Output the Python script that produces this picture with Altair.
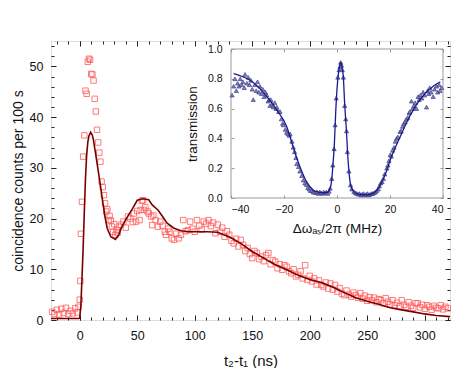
import altair as alt
import pandas as pd

# ---------------- main panel data ----------------
t_data = [-24, -22, -20, -18, -16, -14, -12, -10, -8, -6, -4, -2, -1, 0, 0.5,
          1, 2, 3, 4, 5, 6, 7, 8, 9, 10, 11, 12, 13, 14, 15, 16, 17, 18, 19, 20,
          21, 22, 23, 24, 25, 26, 27, 28, 29, 30, 31, 32, 33, 34, 36, 38, 40, 42,
          44, 46, 47, 49, 50, 52, 53, 54, 55, 56, 57, 59, 60, 62, 63, 64, 66, 68,
          70, 72, 74, 75, 77, 78, 80, 82, 84, 86, 88, 90, 92, 94, 96, 98, 100, 102,
          104, 106, 108, 110, 112, 114, 116, 118, 120, 122, 124, 126, 128, 130,
          132, 134, 136, 138, 140, 142, 144, 146, 148, 150, 152, 154, 156, 158,
          160, 162, 164, 166, 168, 170, 172, 174, 176, 178, 180, 182, 184, 186,
          188, 190, 192, 194, 196, 198, 200, 202, 204, 206, 208, 210, 212, 214,
          216, 218, 220, 222, 224, 226, 228, 230, 232, 234, 236, 238, 240, 242,
          244, 246, 248, 250, 252, 254, 256, 258, 260, 262, 264, 266, 268, 270,
          272, 274, 276, 278, 280, 282, 284, 286, 288, 290, 292, 294, 296, 298,
          300, 302, 304, 306, 308, 310, 312, 314, 316, 318, 320]
c_data = [1.6, 1.2, 2.0, 1.1, 2.2, 1.4, 2.4, 1.2, 1.8, 1.3, 2.3, 1.5, 2.6, 4.0, 7.7,
          17.0, 23.3, 32.2, 36.4, 45.2, 44.6, 50.9, 51.5, 51.3, 48.5, 48.4, 47.2,
          43.6, 41.1, 37.5, 35.0, 33.0, 31.2, 27.3, 26.2, 24.6, 23.0, 21.4, 21.8,
          19.7, 20.5, 19.6, 18.4, 17.4, 18.9, 16.8, 17.7, 17.2, 18.4, 18.8, 19.4,
          18.2, 20.4, 20.0, 19.3, 21.0, 19.4, 21.5, 19.7, 21.7, 23.5, 23.6, 21.7,
          22.2, 21.4, 21.0, 20.4, 18.7, 20.6, 19.7, 18.4, 19.4, 18.6, 17.4, 16.8,
          18.0, 17.4, 16.1, 15.8, 17.0, 16.1, 16.8, 19.7, 17.5, 17.7, 19.4, 18.0,
          17.4, 19.7, 18.6, 17.8, 19.4, 19.0, 19.7, 18.5, 19.2, 17.1, 18.8, 17.4,
          18.2, 16.4, 17.5, 16.8, 15.6, 15.1, 16.0, 14.5, 15.8, 14.8, 13.6, 14.2,
          13.0, 12.2, 13.6, 13.2, 12.0, 12.5, 11.6, 12.8, 13.2, 11.0, 11.8, 11.5,
          10.2, 11.0, 9.9, 10.8, 10.5, 9.6, 9.2, 10.0, 8.6, 8.9, 9.6, 8.2, 10.8,
          7.9, 8.7, 7.6, 8.2, 7.0, 7.8, 6.9, 6.6, 7.4, 6.2, 7.2, 6.0, 6.9, 5.6,
          6.3, 5.2, 4.9, 5.8, 5.0, 4.6, 5.4, 4.9, 4.4, 5.3, 4.2, 4.8, 3.8, 4.5,
          3.9, 4.4, 3.5, 4.1, 3.9, 3.3, 4.3, 3.6, 3.1, 3.9, 2.9, 3.4, 2.7, 3.9,
          3.0, 2.6, 3.5, 2.8, 2.4, 3.3, 3.3, 2.5, 3.0, 2.2, 2.9, 2.6, 2.0, 2.8,
          2.4, 2.3, 2.9, 2.1, 2.6, 2.3]

t_fit = [-25, -1, 0, 1, 2, 3, 4, 5, 6, 7, 8, 9.5, 11, 12, 13, 14, 16, 18, 20, 22,
         24, 27, 31, 34, 36, 40, 46, 50, 55, 60, 63, 68, 72, 76, 82, 88, 95, 100,
         111, 120, 125, 130, 140, 150, 160, 170, 180, 190, 200, 210, 220, 230, 240,
         250, 260, 270, 280, 290, 300, 310, 322]
c_fit = [0.3, 0.3, 0.4, 3.0, 8.5, 14.5, 21.5, 28.0, 32.5, 35.0, 36.3, 37.0, 36.4,
         35.4, 33.9, 32.5, 29.5, 26.5, 23.3, 20.3, 18.0, 16.4, 15.9, 16.8, 18.1,
         19.8, 22.0, 23.6, 23.9, 23.7, 22.7, 21.7, 20.4, 19.1, 18.1, 17.6, 17.4,
         17.4, 17.4, 17.3, 16.8, 16.4, 15.1, 13.5, 12.2, 10.9, 9.9, 8.8, 8.0, 7.4,
         6.5, 5.4, 4.4, 3.7, 3.1, 2.4, 2.0, 1.6, 1.2, 0.9, 0.66]

# ---------------- inset data ----------------
f_data = [-39.6, -39.0, -38.5, -38.0, -37.5, -37.0, -36.5, -36.0, -35.5, -35.0,
          -34.7, -34.0, -33.5, -33.0, -32.5, -32.0, -31.6, -31.0, -30.5, -30.0,
          -29.5, -29.1, -28.5, -28.0, -27.5, -27.0, -26.5, -26.0, -25.5, -25.3,
          -25.0, -24.5, -24.0, -23.5, -23.0, -22.7, -22.0, -21.5, -21.0, -20.5,
          -20.2, -19.5, -19.0, -18.5, -18.0, -17.7, -17.0, -16.5, -16.0, -15.5,
          -15.2, -14.5, -14.0, -13.3, -12.7, -12.1, -11.5, -11.0, -10.5, -10.0,
          -9.5, -9.0, -8.5, -8.0, -7.5, -7.0, -6.5, -6.0, -5.5, -5.0, -4.5, -4.0,
          -3.5, -3.0, -2.6, -2.0, -1.6, -1.1, -0.7, -0.3, 0.3, 0.8, 1.1, 1.4, 1.7,
          2.0, 2.4, 2.9, 3.3, 3.6, 3.9, 4.5, 5.1, 5.6, 6.4, 7.0, 7.5, 8.0, 8.5,
          9.0, 9.5, 10.0, 10.5, 11.0, 11.5, 12.0, 12.5, 13.0, 13.5, 14.0, 14.5,
          15.0, 15.6, 16.0, 16.5, 17.0, 17.5, 18.0, 18.8, 19.2, 19.6, 20.1, 20.5,
          21.0, 21.5, 22.0, 22.5, 23.0, 23.8, 24.2, 24.7, 25.2, 25.7, 26.2, 26.7,
          27.2, 27.5, 28.1, 28.5, 29.0, 29.5, 30.0, 30.6, 31.0, 31.5, 32.0, 32.5,
          33.0, 33.8, 34.2, 34.6, 35.0, 35.5, 36.3, 36.8, 37.5, 38.0, 38.5, 38.9,
          39.5]
T_data = [0.69, 0.75, 0.80, 0.72, 0.77, 0.75, 0.80, 0.76, 0.78, 0.74, 0.83, 0.77,
          0.81, 0.76, 0.79, 0.73, 0.66, 0.76, 0.72, 0.78, 0.71, 0.75, 0.70, 0.73,
          0.68, 0.71, 0.69, 0.65, 0.66, 0.62, 0.66, 0.63, 0.61, 0.64, 0.60, 0.61,
          0.58, 0.58, 0.53, 0.50, 0.49, 0.46, 0.44, 0.43, 0.42, 0.43, 0.38, 0.34,
          0.31, 0.27, 0.23, 0.21, 0.18, 0.15, 0.12, 0.10, 0.09, 0.07, 0.06, 0.05,
          0.05, 0.04, 0.04, 0.035, 0.04, 0.03, 0.04, 0.035, 0.03, 0.04, 0.035,
          0.04, 0.03, 0.045, 0.065, 0.13, 0.22, 0.33, 0.49, 0.67, 0.81, 0.86, 0.88,
          0.91, 0.89, 0.86, 0.81, 0.62, 0.53, 0.45, 0.31, 0.18, 0.087, 0.06, 0.042,
          0.035, 0.03, 0.025, 0.03, 0.02, 0.025, 0.03, 0.02, 0.025, 0.03, 0.02,
          0.025, 0.03, 0.03, 0.035, 0.04, 0.05, 0.06, 0.08, 0.10, 0.11, 0.13, 0.16,
          0.20, 0.22, 0.25, 0.29, 0.28, 0.32, 0.34, 0.38, 0.40, 0.41, 0.445, 0.45,
          0.48, 0.50, 0.51, 0.53, 0.54, 0.57, 0.58, 0.65, 0.60, 0.62, 0.64, 0.60,
          0.68, 0.66, 0.69, 0.67, 0.71, 0.69, 0.61, 0.72, 0.70, 0.74, 0.71, 0.68,
          0.73, 0.75, 0.71, 0.76, 0.72, 0.74]

f_fit = [-39, -35, -32.8, -30, -26.5, -22.7, -19, -16.5, -14, -11.5, -9, -7, -5.2,
         -3.5, -2.5, -2, -1.5, -1, -0.5, 0, 0.5, 1, 1.4, 1.8, 2.4, 2.9, 3.3, 3.6,
         4, 4.5, 5.1, 6, 7.4, 10, 12.5, 14, 15.6, 18.1, 20.6, 23.8, 27.5, 31.3,
         36.3, 39]
T_fit = [0.835, 0.81, 0.79, 0.75, 0.68, 0.59, 0.48, 0.34, 0.21, 0.11, 0.054, 0.04,
         0.036, 0.04, 0.07, 0.12, 0.23, 0.36, 0.57, 0.73, 0.83, 0.89, 0.91, 0.89,
         0.81, 0.63, 0.52, 0.44, 0.30, 0.18, 0.09, 0.05, 0.027, 0.022, 0.025,
         0.035, 0.065, 0.154, 0.28, 0.41, 0.55, 0.66, 0.75, 0.78]

# ---------------- axes / ticks ----------------
main_x_dom = [-25, 322]
main_y_dom = [0, 55]
inset_x_dom = [-40, 40]
inset_y_dom = [0, 1]
main_x_major = [0, 50, 100, 150, 200, 250, 300]
main_x_minor = [-20, -10, 0, 10, 20, 30, 40, 50, 60, 70, 80, 90, 100, 110, 120,
                130, 140, 150, 160, 170, 180, 190, 200, 210, 220, 230, 240, 250,
                260, 270, 280, 290, 300, 310, 320]
main_y_major = [0, 10, 20, 30, 40, 50]
main_y_minor = [0, 2, 4, 6, 8, 10, 12, 14, 16, 18, 20, 22, 24, 26, 28, 30, 32, 34,
                36, 38, 40, 42, 44, 46, 48, 50, 52, 54]
inset_x_ticks = [-40, -20, 0, 20, 40]
inset_y_ticks = [0.0, 0.2, 0.4, 0.6, 0.8, 1.0]

W, H = 399, 279
INSET_XR = [180, 392]
INSET_YR = [157, 8]
FONT = "Liberation Sans"

main_df = pd.DataFrame({"t": t_data, "c": c_data})
fit_df = pd.DataFrame({"t": t_fit, "c": c_fit})
inset_df = pd.DataFrame({"f": f_data, "T": T_data})
inset_fit_df = pd.DataFrame({"f": f_fit, "T": T_fit})
frame_df = pd.DataFrame({"f0": [inset_x_dom[0]], "f1": [inset_x_dom[1]],
                         "T0": [inset_y_dom[0]], "T1": [inset_y_dom[1]]})


def sx():
    return alt.Scale(domain=main_x_dom, nice=False, zero=False)


def sy():
    return alt.Scale(domain=main_y_dom, nice=False, zero=False)


def isx():
    return alt.Scale(domain=inset_x_dom, range=INSET_XR, nice=False, zero=False)


def isy():
    return alt.Scale(domain=inset_y_dom, range=INSET_YR, nice=False, zero=False)


def tick_axis(orient, values, size, offset, color="#222"):
    return alt.Axis(orient=orient, values=values, tickSize=size, offset=offset,
                    labels=False, title=None, domain=False, grid=False,
                    tickColor=color, tickWidth=1)


# main data
pts = alt.Chart(main_df).mark_point(
    shape="square", filled=False, color="#ff5c5c", size=30, strokeWidth=0.9,
    opacity=0.9
).encode(
    x=alt.X("t:Q", scale=sx(), axis=alt.Axis(
        orient="bottom", values=main_x_major, tickSize=5, offset=-5,
        labelPadding=9, title="t₂-t₁ (ns)", titlePadding=12, titleFontSize=15,
        titleFontWeight="normal", titleFont=FONT, labelFont=FONT, labelFontSize=12.5,
        labelColor="#111", titleColor="#111", domain=False, grid=False,
        tickColor="#222")),
    y=alt.Y("c:Q", scale=sy(), axis=alt.Axis(
        orient="left", values=main_y_major, tickSize=5, offset=-5,
        labelPadding=8, title="coincidence counts per 100 s", titlePadding=4,
        titleFontSize=14, titleFontWeight="normal", titleFont=FONT,
        labelFont=FONT, labelFontSize=12.5, labelColor="#111", titleColor="#111",
        domain=False, grid=False, tickColor="#222")),
)

fit = alt.Chart(fit_df).mark_line(color="#7a0000", strokeWidth=1.6).encode(
    x=alt.X("t:Q", scale=sx(), axis=None),
    y=alt.Y("c:Q", scale=sy(), axis=None),
)

minor_bl = alt.Chart(main_df).mark_point(opacity=0).encode(
    x=alt.X("t:Q", scale=sx(), axis=tick_axis("bottom", main_x_minor, 3, -3)),
    y=alt.Y("c:Q", scale=sy(), axis=tick_axis("left", main_y_minor, 3, -3)),
)
minor_tr = alt.Chart(main_df).mark_point(opacity=0).encode(
    x=alt.X("t:Q", scale=sx(), axis=tick_axis("top", main_x_minor, 3, -3)),
    y=alt.Y("c:Q", scale=sy(), axis=tick_axis("right", main_y_minor, 3, -3)),
)
major_tr = alt.Chart(main_df).mark_point(opacity=0).encode(
    x=alt.X("t:Q", scale=sx(), axis=tick_axis("top", main_x_major, 5, -5)),
    y=alt.Y("c:Q", scale=sy(), axis=tick_axis("right", main_y_major, 5, -5)),
)

# inset
frame = alt.Chart(frame_df).mark_rect(
    fill="white", fillOpacity=0, stroke="#999", strokeWidth=1
).encode(
    x=alt.X("f0:Q", scale=isx(), axis=alt.Axis(
        orient="bottom", values=inset_x_ticks, tickSize=3,
        offset=-(H - INSET_YR[0]) - 3, labelPadding=6,
        title="Δωₐₛ/2π (MHz)", titlePadding=7, titleFontSize=13.5,
        titleFontWeight="normal", titleFont=FONT, labelFont=FONT,
        labelFontSize=10.5, labelColor="#111", titleColor="#111",
        domain=False, grid=False, tickColor="#999")),
    x2="f1:Q",
    y=alt.Y("T0:Q", scale=isy(), axis=alt.Axis(
        orient="left", values=inset_y_ticks, tickSize=3,
        offset=-INSET_XR[0] - 3, labelPadding=9, format=".1f",
        title="transmission", titlePadding=8, titleFontSize=13.5,
        titleFontWeight="normal", titleFont=FONT, labelFont=FONT,
        labelFontSize=10.5, labelColor="#111", titleColor="#111",
        domain=False, grid=False, tickColor="#999")),
    y2="T1:Q",
)

inset_ticks = alt.Chart(inset_df).mark_point(opacity=0).encode(
    x=alt.X("f:Q", scale=isx(), axis=tick_axis(
        "top", inset_x_ticks, 3, -INSET_YR[1] - 3, "#999")),
    y=alt.Y("T:Q", scale=isy(), axis=tick_axis(
        "right", inset_y_ticks, 3, -(W - INSET_XR[1]) - 3, "#999")),
)

inset_pts = alt.Chart(inset_df).mark_point(
    shape="triangle-up", filled=True, fill="#8585ad", stroke="#2e2e85",
    strokeWidth=0.6, size=18, opacity=1
).encode(
    x=alt.X("f:Q", scale=isx(), axis=None),
    y=alt.Y("T:Q", scale=isy(), axis=None),
)

inset_fit = alt.Chart(inset_fit_df).mark_line(
    color="#1a1a8f", strokeWidth=1.3, interpolate="monotone"
).encode(
    x=alt.X("f:Q", scale=isx(), axis=None),
    y=alt.Y("T:Q", scale=isy(), axis=None),
)

chart = alt.layer(
    minor_bl, minor_tr, major_tr, pts, fit,
    frame, inset_ticks, inset_pts, inset_fit
).resolve_scale(
    x="independent", y="independent"
).properties(
    width=W, height=H,
    autosize=alt.AutoSizeParams(type="none"),
    padding={"left": 43, "top": 33, "right": 13, "bottom": 48},
).configure_view(
    stroke="#333", strokeWidth=1
).configure(background="white")

chart.save("out.html", embed_options={"renderer": "svg", "actions": False})
